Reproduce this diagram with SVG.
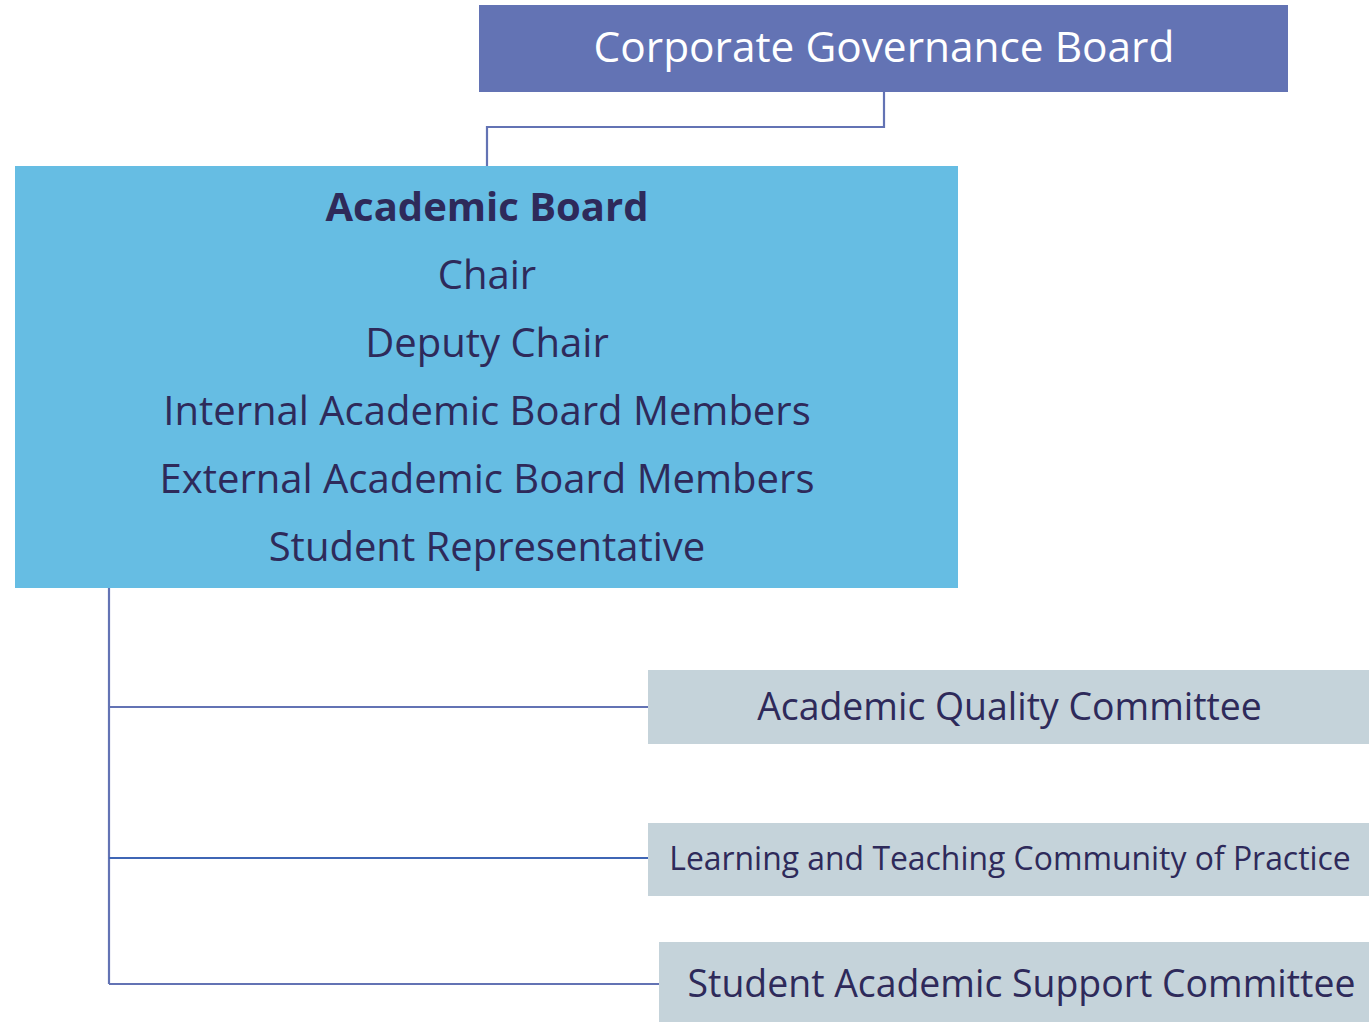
<svg xmlns="http://www.w3.org/2000/svg" width="1369" height="1022" viewBox="0 0 1369 1022">
<style>
text{font-family:"Open Sans","Noto Sans","Liberation Sans",sans-serif;text-anchor:middle}
.dark{fill:#2E2A5A}
.conn{fill:none;stroke:#6373B4;stroke-width:2.2}
.comm{fill:#C5D3DA}
</style>
<rect width="1369" height="1022" fill="#ffffff"/>
<g id="connectors">
<polyline class="conn" points="884,92 884,127 487,127 487,166"/>
<polyline class="conn" points="109,588 109,984"/>
<line class="conn" x1="109" y1="707" x2="648" y2="707"/>
<line class="conn" x1="109" y1="858" x2="648" y2="858" style="stroke:#3F66B5"/>
<line class="conn" x1="109" y1="984" x2="659" y2="984"/>
</g>
<g id="corporate-governance-board">
<rect x="479" y="5" width="809" height="87" fill="#6373B4"/>
<text x="884" y="62" font-size="42.4" fill="#ffffff">Corporate Governance Board</text>
</g>
<g id="academic-board">
<rect x="15" y="166" width="943" height="422" fill="#66BDE3"/>
<text x="487" y="221" font-size="40" font-weight="bold" class="dark">Academic Board</text>
<text x="487" y="289" font-size="40" class="dark">Chair</text>
<text x="487" y="357" font-size="40" class="dark">Deputy Chair</text>
<text x="487" y="425" font-size="40" class="dark">Internal Academic Board Members</text>
<text x="487" y="493" font-size="40" class="dark">External Academic Board Members</text>
<text x="487" y="561" font-size="40" class="dark">Student Representative</text>
</g>
<g id="academic-quality-committee">
<rect class="comm" x="648" y="670" width="721" height="74"/>
<text x="1009.5" y="720" font-size="37.4" class="dark">Academic Quality Committee</text>
</g>
<g id="learning-teaching-cop">
<rect class="comm" x="648" y="823" width="721" height="73"/>
<text x="1010" y="870" font-size="31.9" class="dark">Learning and Teaching Community of Practice</text>
</g>
<g id="student-academic-support-committee">
<rect class="comm" x="659" y="942" width="710" height="80"/>
<text x="1021.5" y="997" font-size="37.4" class="dark">Student Academic Support Committee</text>
</g>
</svg>
